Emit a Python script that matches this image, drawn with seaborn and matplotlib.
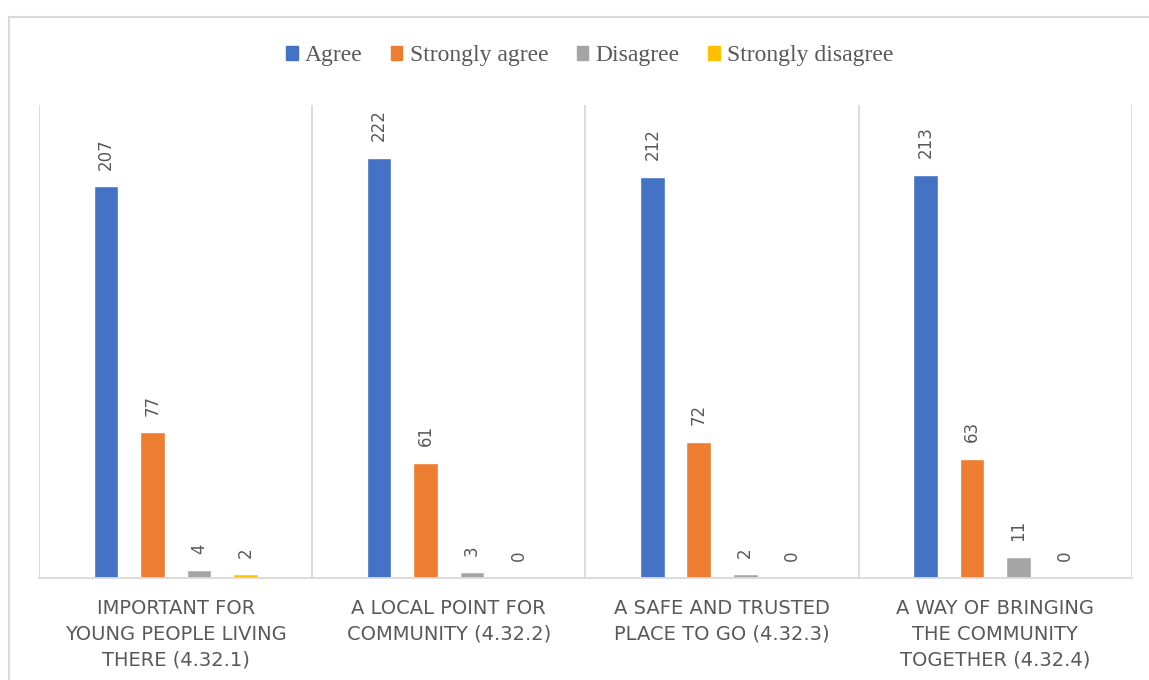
import matplotlib
matplotlib.use("Agg")
import matplotlib.pyplot as plt
import seaborn as sns
import pandas as pd
from matplotlib.patches import Rectangle

categories = [
    "IMPORTANT FOR\nYOUNG PEOPLE LIVING\nTHERE (4.32.1)",
    "A LOCAL POINT FOR\nCOMMUNITY (4.32.2)",
    "A SAFE AND TRUSTED\nPLACE TO GO (4.32.3)",
    "A WAY OF BRINGING\nTHE COMMUNITY\nTOGETHER (4.32.4)",
]
responses = ["Agree", "Strongly agree", "Disagree", "Strongly disagree"]
agree = [207, 222, 212, 213]
strongly_agree = [77, 61, 72, 63]
disagree = [4, 3, 2, 11]
strongly_disagree = [2, 0, 0, 0]
colors = ["#4472C4", "#ED7D31", "#A5A5A5", "#FFC000"]

rows = []
for resp, vals in zip(responses, [agree, strongly_agree, disagree, strongly_disagree]):
    for cat, v in zip(categories, vals):
        rows.append({"category": cat, "response": resp, "count": v})
df = pd.DataFrame(rows)

sns.set_style("white")
fig = plt.figure(figsize=(11.49, 6.8), dpi=100)
ax = fig.add_axes([0.034, 0.15, 0.951, 0.6956])

sns.barplot(data=df, x="category", y="count", hue="response", order=categories,
            hue_order=responses, palette=colors, width=0.68, gap=0.47,
            saturation=1, ax=ax, legend=False)

for c in ax.containers:
    ax.bar_label(c, rotation=90, padding=12, fontsize=12, color="#595959")

ax.set_ylim(0, 250)
ax.set_xlim(-0.5, 3.5)
for x in [-0.5, 0.5, 1.5, 2.5, 3.5]:
    ax.axvline(x, color="#D9D9D9", lw=1.3, zorder=0)
ax.set_yticks([])
ax.set_xlabel("")
ax.set_ylabel("")
for s in ["top", "left", "right"]:
    ax.spines[s].set_visible(False)
ax.spines["bottom"].set_color("#D9D9D9")
ax.spines["bottom"].set_linewidth(1.3)
ax.tick_params(axis="x", length=0, pad=15, labelsize=14, labelcolor="#595959")
for lab in ax.get_xticklabels():
    lab.set_linespacing(1.45)

handles = [Rectangle((0, 0), 1, 1, color=c) for c in colors]
fig.legend(handles, responses, loc="center", bbox_to_anchor=(0.513, 0.918), ncol=4,
           frameon=False, prop={"family": "Liberation Serif", "size": 17},
           labelcolor="#595959", handlelength=0.5, handleheight=0.5,
           handletextpad=0.3, columnspacing=1.2)

fig.patches.append(Rectangle((0.0078, -0.1), 1.2, 1.075, transform=fig.transFigure,
                             fill=False, edgecolor="#D9D9D9", lw=1.5))

fig.savefig("out.png", dpi=100)
